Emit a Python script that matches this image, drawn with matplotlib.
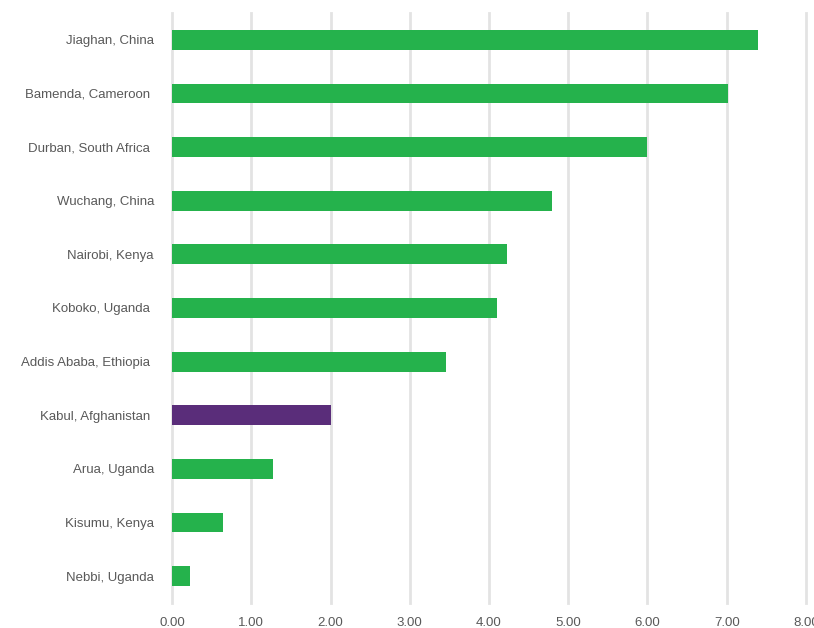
import matplotlib.pyplot as plt
from matplotlib import font_manager

cities = ["Jiaghan, China", "Bamenda, Cameroon ", "Durban, South Africa ", "Wuchang, China",
          "Nairobi, Kenya", "Koboko, Uganda ", "Addis Ababa, Ethiopia ", "Kabul, Afghanistan ",
          "Arua, Uganda", "Kisumu, Kenya", "Nebbi, Uganda"]
values = [7.40, 7.01, 6.00, 4.80, 4.23, 4.10, 3.46, 2.01, 1.28, 0.64, 0.23]
highlight = "Kabul, Afghanistan "
xticks = [0, 1, 2, 3, 4, 5, 6, 7, 8]

green = "#25b24c"
purple = "#5a2d7a"
txt = "#595959"

names = [f.name for f in font_manager.fontManager.ttflist]
fam = ["Liberation Sans Narrow", "Liberation Sans", "DejaVu Sans"]
plt.rcParams['font.family'] = [f for f in fam if f in names] or ["DejaVu Sans"]

fig = plt.figure(figsize=(8.14, 6.28), dpi=100)
ax = fig.add_axes([172 / 814, 1 - 603 / 628, 634 / 814, 590 / 628])

ypos = list(range(len(cities)))[::-1]
colors = [purple if c == highlight else green for c in cities]
ax.barh(ypos, values, height=0.37, color=colors, zorder=3)

ax.set_xlim(0, 8)
ax.set_ylim(-0.5, len(cities) - 0.5)
ax.set_xticks(xticks)
ax.set_xticklabels([f"{t:.2f}" for t in xticks])
ax.set_yticks(ypos)
ax.set_yticklabels(cities)
ax.tick_params(axis="both", length=0, labelsize=9.5, colors=txt)
ax.tick_params(axis="y", pad=13)
ax.tick_params(axis="x", pad=10)
ax.grid(axis="x", color="#e3e3e3", linewidth=2, zorder=0)
for gl in ax.get_xgridlines():
    gl.set_clip_on(False)
for s in ax.spines.values():
    s.set_visible(False)

fig.savefig("out.png", dpi=100)
